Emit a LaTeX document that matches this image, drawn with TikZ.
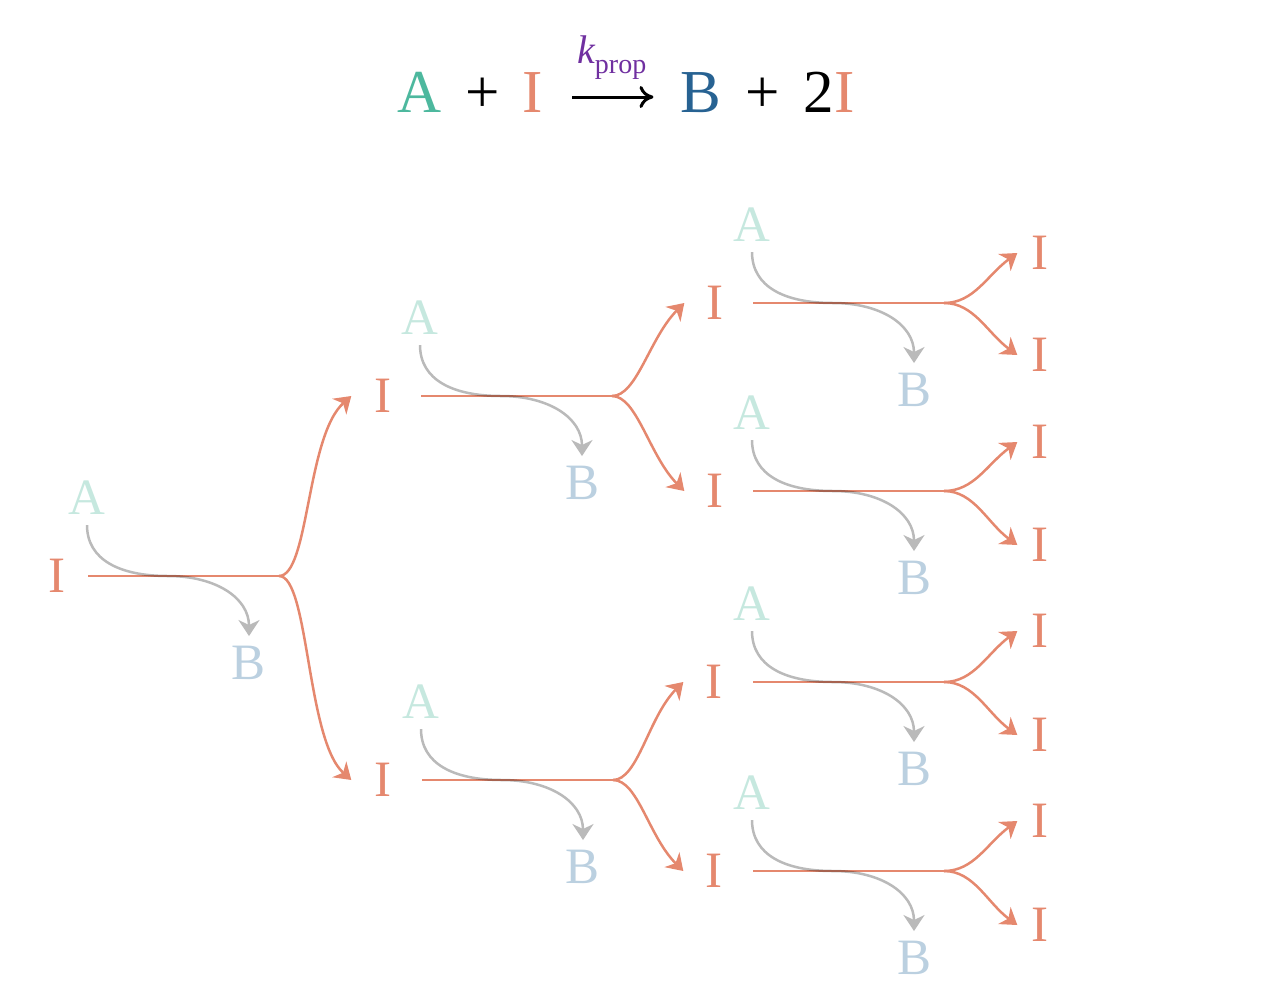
\documentclass[tikz,border=0pt]{standalone}
\usepackage{fontspec}
\setmainfont{Liberation Serif}
\usetikzlibrary{arrows.meta}
\definecolor{cI}{HTML}{E5886E}
\definecolor{cApale}{HTML}{C6E8DF}
\definecolor{cBpale}{HTML}{BBD0E0}
\definecolor{cA}{HTML}{4DB89E}
\definecolor{cB}{HTML}{276292}
\definecolor{cK}{HTML}{7030A0}
\tikzset{
  lab/.style={inner sep=0pt, font=\fontsize{51}{60}\selectfont},
  ilab/.style={lab, text=cI},
  alab/.style={lab, text=cApale},
  blab/.style={lab, text=cBpale},
  iline/.style={draw=cI, line width=2.5pt},
  iarrow/.style={iline, -{Stealth[length=16pt,width=21pt,inset=5pt]}},
  garrow/.style={draw=black, line width=2.5pt, -{Stealth[length=16pt,width=21pt,inset=5pt]}},
  eqlab/.style={inner sep=0pt, anchor=base, font=\fontsize{61}{70}\selectfont},
  eqarrow/.style={line width=3pt, -{Computer Modern Rightarrow[length=14pt,width=22pt]}}
}
\newcommand\rxunit[4]{%
  \node[ilab] (#1I) at (#2,#3) {I};
  \node[alab] (#1A) at (#4-1,#3-78) {A};
  \node[blab] (#1B) at (#4+161,#3+87) {B};
  \coordinate (#1s) at (#4,#3);
  \coordinate (#1j) at (#4+80,#3);
  \coordinate (#1b) at (#4+191,#3);
  \draw[iline] (#1s) -- (#1b);
  \begin{scope}[transparency group, opacity=0.27]
  \draw[garrow] ([yshift=-10pt]#1A.south) .. controls +(0,35) and +(-48,0) .. (#1j)
     .. controls +(48,0) and +(0,-38) .. ([yshift=10pt]#1B.north);
  \end{scope}
}
\begin{document}
\begin{tikzpicture}[x=1pt,y=-1pt]
\useasboundingbox (0,0) rectangle (1284,1002);
% equation
\node[eqlab, text=cA] (eqA) at (420,112) {A};
\node[eqlab] (eqP1) at (483,112) {+};
\node[eqlab, text=cI] (eqI) at (533,112) {I};
\node[eqlab, text=cB] (eqB) at (701,112) {B};
\node[eqlab] (eqP2) at (763,112) {+};
\node[eqlab] (eq2I) at (829,112) {2\textcolor{cI}{I}};
\node[inner sep=0pt, anchor=base west, text=cK] (kprop) at (577,63)
  {{\fontsize{40}{42}\selectfont\itshape k}\raisebox{-10pt}{\fontsize{28}{30}\selectfont prop}};
\draw[eqarrow] ([xshift=29pt,yshift=15pt]eqI.base east) -- ([xshift=-27pt,yshift=15pt]eqB.base west);
% units
\rxunit{L0}{57}{576}{88}
\rxunit{L1a}{383}{396}{421}
\rxunit{L1b}{383}{780}{422}
\rxunit{L2a}{715}{303}{753}
\rxunit{L2b}{715}{491}{753}
\rxunit{L2c}{714}{682}{753}
\rxunit{L2d}{714}{871}{753}
% final products
\node[ilab] (F1) at (1040,253) {I};
\node[ilab] (F2) at (1040,355) {I};
\node[ilab] (F3) at (1040,442) {I};
\node[ilab] (F4) at (1040,545) {I};
\node[ilab] (F5) at (1040,631) {I};
\node[ilab] (F6) at (1040,735) {I};
\node[ilab] (F7) at (1040,821) {I};
\node[ilab] (F8) at (1040,925) {I};
% branches level 0
\draw[iarrow] (L0b) .. controls +(30,0) and +(-45,40) .. ([xshift=-23pt]L1aI.west);
\draw[iarrow] (L0b) .. controls +(30,0) and +(-45,-40) .. ([xshift=-23pt]L1bI.west);
% branches level 1
\draw[iarrow] (L1ab) .. controls +(25,0) and +(-35,35) .. ([xshift=-22pt]L2aI.west);
\draw[iarrow] (L1ab) .. controls +(25,0) and +(-35,-35) .. ([xshift=-22pt]L2bI.west);
\draw[iarrow] (L1bb) .. controls +(25,0) and +(-35,35) .. ([xshift=-22pt]L2cI.west);
\draw[iarrow] (L1bb) .. controls +(25,0) and +(-35,-35) .. ([xshift=-22pt]L2dI.west);
% branches level 2
\draw[iarrow] (L2ab) .. controls +(30,0) and +(-30,22) .. ([xshift=-14pt]F1.west);
\draw[iarrow] (L2ab) .. controls +(30,0) and +(-30,-22) .. ([xshift=-14pt]F2.west);
\draw[iarrow] (L2bb) .. controls +(30,0) and +(-30,22) .. ([xshift=-14pt]F3.west);
\draw[iarrow] (L2bb) .. controls +(30,0) and +(-30,-22) .. ([xshift=-14pt]F4.west);
\draw[iarrow] (L2cb) .. controls +(30,0) and +(-30,22) .. ([xshift=-14pt]F5.west);
\draw[iarrow] (L2cb) .. controls +(30,0) and +(-30,-22) .. ([xshift=-14pt]F6.west);
\draw[iarrow] (L2db) .. controls +(30,0) and +(-30,22) .. ([xshift=-14pt]F7.west);
\draw[iarrow] (L2db) .. controls +(30,0) and +(-30,-22) .. ([xshift=-14pt]F8.west);
\end{tikzpicture}
\end{document}
